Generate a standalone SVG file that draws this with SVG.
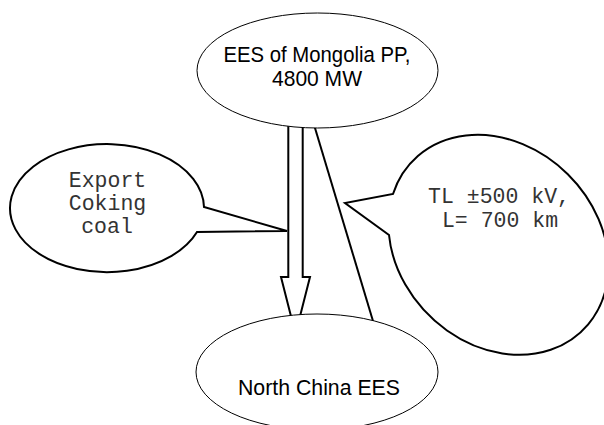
<svg xmlns="http://www.w3.org/2000/svg" width="604" height="425" viewBox="0 0 604 425">
<style>
.node{fill:#fff;stroke:#000;stroke-width:1}
.bubble{fill:#fff;stroke:#000;stroke-width:2;stroke-linejoin:miter}
.conn{fill:none;stroke:#000;stroke-width:2}
.sans{font-family:"Liberation Sans",Arial,sans-serif;font-size:22px;fill:#000}
.mono{font-family:"Liberation Mono","Courier New",monospace;font-size:21.5px;fill:#333}
</style>
<rect width="604" height="425" fill="#fff"/>
<g id="connectors">
<polygon class="conn" points="288.3,124 302.7,124 302.7,277 310,277 295.5,334 281,277 288.3,277"/>
<line class="conn" x1="314.4" y1="126" x2="373.9" y2="324" stroke-width="1.8"/>
</g>
<g id="node-mongolia">
<ellipse class="node" cx="317.5" cy="70.5" rx="120.5" ry="57.5"/>
<text class="sans" x="317" y="62" text-anchor="middle" textLength="187" lengthAdjust="spacingAndGlyphs">EES of Mongolia PP,</text>
<text class="sans" x="317" y="86" text-anchor="middle" textLength="90" lengthAdjust="spacingAndGlyphs">4800 MW</text>
</g>
<g id="node-northchina">
<ellipse class="node" cx="317" cy="372" rx="121" ry="58"/>
<text class="sans" x="319" y="395" text-anchor="middle" textLength="162" lengthAdjust="spacingAndGlyphs">North China EES</text>
</g>
<g id="bubble-coal">
<path class="bubble" d="M204,207 A97 64 0 1 0 197,232 L287,231 Z"/>
<text class="mono" x="107.5" y="187" text-anchor="middle">Export</text>
<text class="mono" x="107.5" y="210" text-anchor="middle">Coking</text>
<text class="mono" x="107" y="233" text-anchor="middle">coal</text>
</g>
<g id="bubble-tl">
<path class="bubble" d="M393,194 A120 99 45 1 1 389,235 L345,203 Z"/>
<text class="mono" x="499" y="203" text-anchor="middle">TL ±500 kV,</text>
<text class="mono" x="500" y="227" text-anchor="middle">L= 700 km</text>
</g>
</svg>
